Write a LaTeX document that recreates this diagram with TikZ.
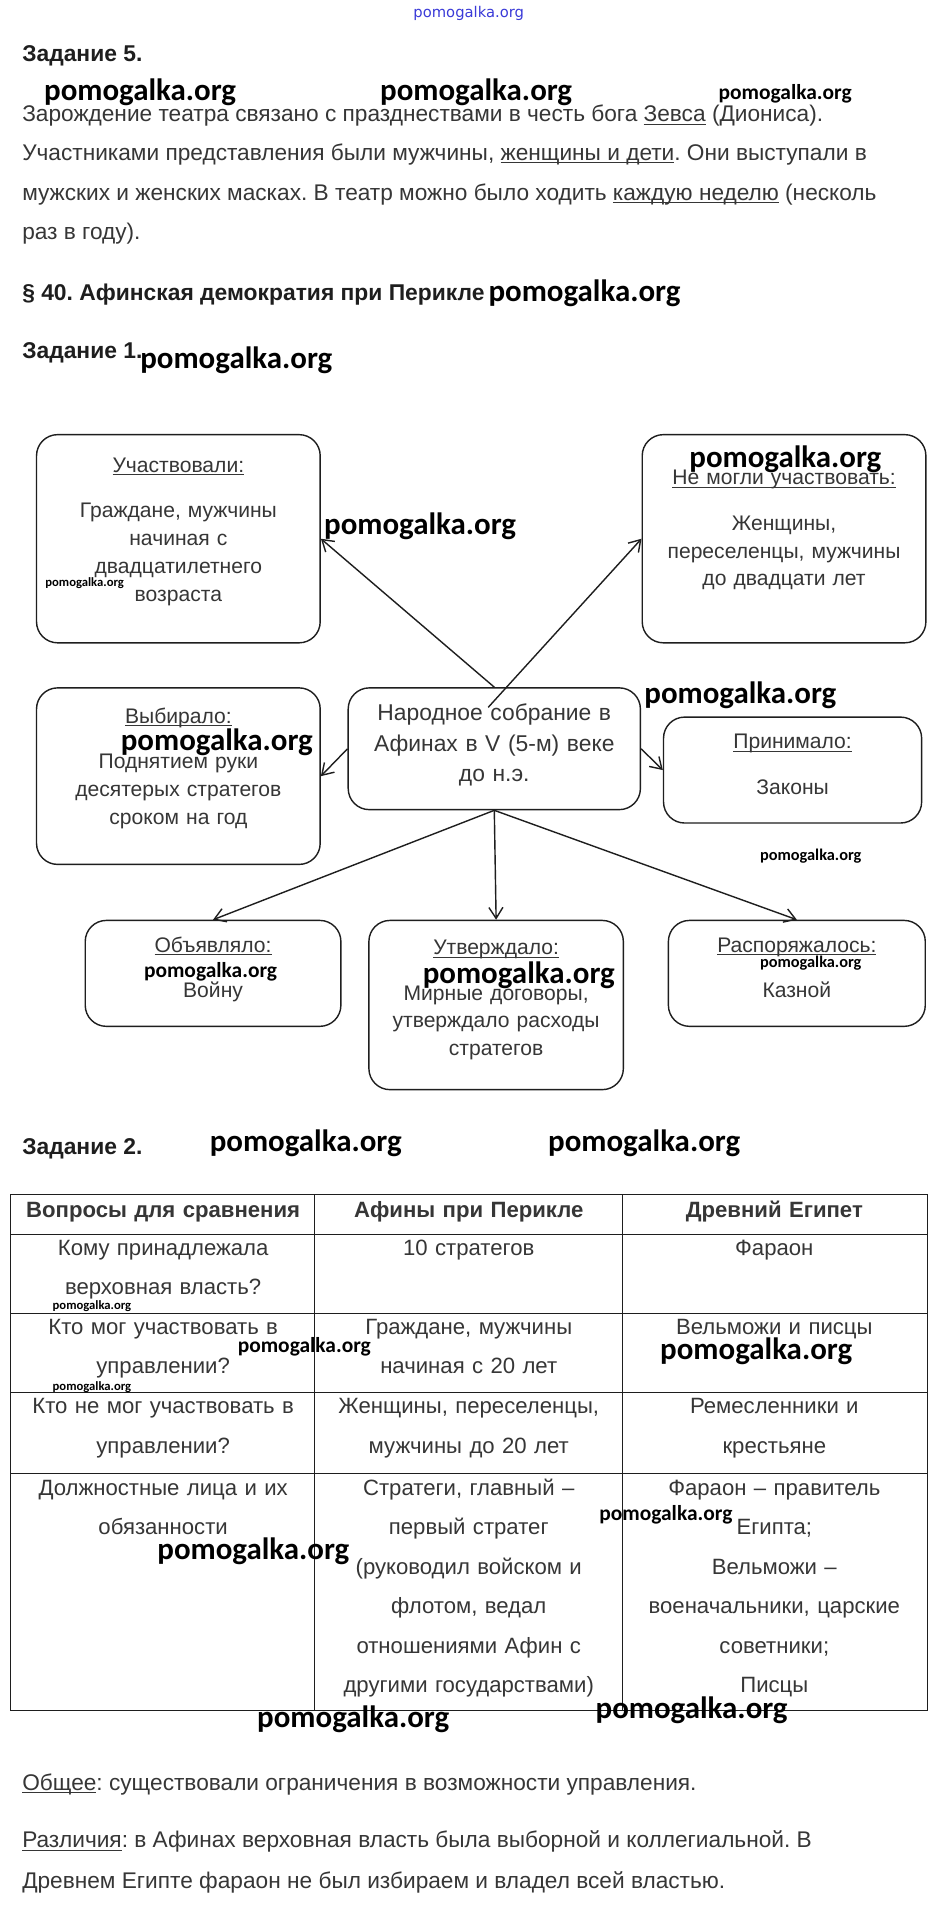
\documentclass[tikz,border=0pt]{standalone}
\usepackage{fontspec}
\setmainfont{Liberation Sans}
\newfontfamily\wmfont{Carlito}
\newfontfamily\topfont{DejaVu Sans}
\usetikzlibrary{arrows.meta,calc}
\definecolor{paper}{HTML}{FFFFFF}
\definecolor{ink}{HTML}{363636}
\definecolor{rule}{HTML}{1E1E1E}
\definecolor{wmblue}{HTML}{3A3AD8}
\newcommand{\U}{0.02435cm}
\newcommand{\ColA}{134}
\newcommand{\ColB}{385}
\newcommand{\ColC}{636}
\newcommand{\TabL}{9}
\newcommand{\TabR}{762}
\newcommand{\TabT}{981}
\newcommand{\TabB}{1405}
\newcommand{\ulin}[1]{\underline{\smash{#1}}}
\frenchspacing

\begin{document}
\begin{tikzpicture}[
    x=\U, y=-\U,
    font=\fontsize{12}{14}\selectfont, ink,
    edge/.style={-{Straight Barb[length=2.2mm,width=2.8mm]}, line width=0.8pt, draw=rule},
    head/.style={anchor=base west, inner sep=0pt, text=rule, font=\fontsize{13}{15}\selectfont\bfseries},
    para/.style={anchor=base west, inner sep=0pt, font=\fontsize{12.9}{15}\selectfont},
    card/.style={draw=rule, line width=0.8pt, rounded corners=12pt, inner sep=0pt},
    cardtext/.style={anchor=base, inner sep=0pt, align=center, font=\fontsize{12}{15.9}\selectfont},
    grid/.style={draw=rule, line width=0.6pt},
    cell/.style={anchor=base, inner sep=0pt, text width=5.8cm, align=center, font=\fontsize{12.6}{22.5}\selectfont},
    wmL/.style={anchor=west, inner sep=0pt, text=black, font=\wmfont\bfseries\fontsize{17.6}{18}\selectfont},
    wmM/.style={wmL, font=\wmfont\bfseries\fontsize{12.2}{13}\selectfont},
    wmS/.style={wmL, font=\wmfont\bfseries\fontsize{9.3}{10}\selectfont},
    wmT/.style={wmL, font=\wmfont\bfseries\fontsize{7.2}{8}\selectfont},
  ]
\useasboundingbox[fill=paper] (0,0) rectangle (767,1568);

% --- Task 5 and the paragraph heading ------------------------------------------------
\node[anchor=center, inner sep=0pt, text=wmblue, font=\topfont\fontsize{8.4}{9}\selectfont] (site) at (385,11) {pomogalka.org};
\node[head] (z5) at (18,50.5) {Задание 5.};
\foreach \i/\y/\txt in {
    1/100/{Зарождение театра связано с празднествами в честь бога \ulin{Зевса} (Диониса).},
    2/131.5/{Участниками представления были мужчины, \ulin{женщины и дети}. Они выступали в},
    3/164.3/{мужских и женских масках. В театр можно было ходить \ulin{каждую неделю} (несколь},
    4/197/{раз в году).}} {
  \node[para] (p\i) at (18,\y) {\txt};
}
\node[head] (par40) at (18,246.5) {§ 40. Афинская демократия при Перикле};
\node[head] (z1) at (18,294.5) {Задание 1.};

% --- Task 1: the assembly and what it did --------------------------------------------
\node[card, minimum width=240*\U, minimum height=100*\U] (sobr) at (406,615) {};
\node[cardtext, text width=220*\U, font=\fontsize{13}{17.6}\selectfont] (sobrtxt) at (406,591.5)
  {Народное собрание в\\Афинах в V (5-м) веке\\до н.э.};
\foreach \nm/\cx/\cy/\w/\h/\ty/\ttl/\txt in {
    uch/146.5/442.5/233/171/388/{Участвовали:}/{Граждане, мужчины\\начиная с\\двадцатилетнего\\возраста},
    nemog/644/442.5/233/171/398/{Не могли участвовать:}/{Женщины,\\переселенцы, мужчины\\до двадцати лет},
    vyb/146.5/637.5/233/145/594/{Выбирало:}/{Поднятием руки\\десятерых стратегов\\сроком на год},
    prin/651/632.5/212/87/615/{Принимало:}/{Законы},
    obj/175/799.5/210/87/782/{Объявляло:}/{Войну},
    utv/407.5/825.5/209/139/784/{Утверждало:}/{Мирные договоры,\\утверждало расходы\\стратегов},
    rasp/654.5/799.5/211/87/782/{Распоряжалось:}/{Казной}} {
  \node[card, minimum width=\w*\U, minimum height=\h*\U] (\nm) at (\cx,\cy) {};
  \node[cardtext, text width=(\w-20)*\U] (\nm txt) at (\cx,\ty) {\ulin{\ttl}\\[10pt]\txt};
}
\coordinate (cross) at (401,581);
\draw[edge] (sobr.north) -- (uch.east);
\draw[edge] (cross) -- (nemog.west);
\draw[edge] (sobr.west) -- (vyb.east);
\draw[edge] (sobr.east) -- (prin.west);
\foreach \nm in {obj,utv,rasp} {
  \draw[edge] (sobr.south) -- (\nm.north);
}

% --- Task 2: the comparison table ----------------------------------------------------
\node[head] (z2) at (18,948.5) {Задание 2.};
\draw[grid] (\TabL,\TabT) rectangle (\TabR,\TabB);
\foreach \x in {258.5,511} {
  \draw[grid] (\x,\TabT) -- (\x,\TabB);
}
\foreach \y in {1014,1079,1144,1210} {
  \draw[grid] (\TabL,\y) -- (\TabR,\y);
}
\foreach \r/\y/\a/\b/\c in {
    0/1000/{\bfseries Вопросы для сравнения}/{\bfseries Афины при Перикле}/{\bfseries Древний Египет},
    1/1031/{Кому принадлежала\\верховная власть?}/{10 стратегов}/{Фараон},
    2/1096/{Кто мог участвовать в\\управлении?}/{Граждане, мужчины\\начиная с 20 лет}/{Вельможи и писцы},
    3/1161/{Кто не мог участвовать в\\управлении?}/{Женщины, переселенцы,\\мужчины до 20 лет}/{Ремесленники и\\крестьяне},
    4/1228/{Должностные лица и их\\обязанности}/{Стратеги, главный –\\первый стратег\\(руководил войском и\\флотом, ведал\\отношениями Афин с\\другими государствами)}/{Фараон – правитель\\Египта;\\Вельможи –\\военачальники, царские\\советники;\\Писцы}} {
  \node[cell] (q\r) at (\ColA,\y) {\a};
  \node[cell] (af\r) at (\ColB,\y) {\b};
  \node[cell] (eg\r) at (\ColC,\y) {\c};
}

% --- Conclusions ---------------------------------------------------------------------
\node[para] (common) at (18,1470.5) {\ulin{Общее}: существовали ограничения в возможности управления.};
\node[para] (diff1) at (18,1517.5) {\ulin{Различия}: в Афинах верховная власть была выборной и коллегиальной. В};
\node[para] (diff2) at (18,1551.5) {Древнем Египте фараон не был избираем и владел всей властью.};

% --- Site marks over the page --------------------------------------------------------
\foreach \x/\y/\s [count=\i] in {
    36/76/L, 312/76/L, 590/77/M, 401/241/L, 115/296/L,
    266/432/L, 566/377/L, 37/479/T, 529/571/L, 99/610/L,
    624/703/S, 118/798/M, 347/801/L, 624/791/S,
    172/939/L, 450/939/L, 43/1073/T, 43/1139/T, 195/1106/M,
    542/1110/L, 492/1244/M, 129/1274/L, 211/1412/L, 489/1405/L} {
  \node[wm\s] (wm\i) at (\x,\y) {pomogalka.org};
}

\end{tikzpicture}
\end{document}
